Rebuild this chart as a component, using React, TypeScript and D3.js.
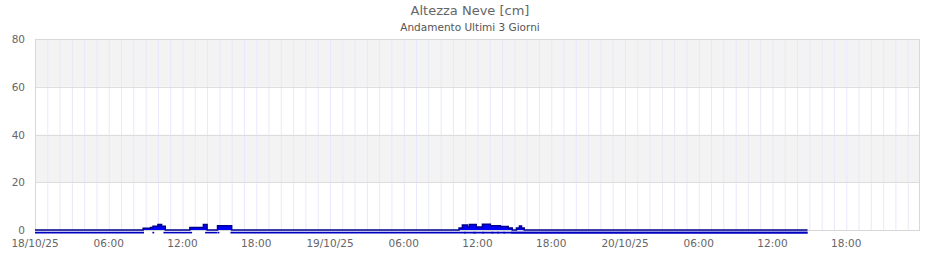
import React from "react";
import * as d3 from "d3";

// Time axis: hours since 18/10/25 00:00
const domainHours = [0, 72];
const yTicks = [0, 20, 40, 60, 80];
const xTickHours = [0, 6, 12, 18, 24, 30, 36, 42, 48, 54, 60, 66];
const xTickLabels = ["18/10/25", "06:00", "12:00", "18:00", "19/10/25", "06:00", "12:00", "18:00", "20/10/25", "06:00", "12:00", "18:00"];

// Snow height series (step changes): hour, value cm
const stepHours = [0, 8.8, 9.4, 9.6, 10.0, 10.3, 10.6, 12.6, 13.7, 14.0, 14.85, 16.0,
  34.5, 34.77, 35.18, 35.34, 35.9, 36.4, 37.05, 37.87, 38.5, 38.83, 39.17, 39.41, 39.58, 39.8, 62.85];
const stepValues = [0, 0.7, 1.0, 1.6, 2.3, 1.6, 0, 1.0, 2.3, 0, 1.8, 0,
  0.8, 2.1, 1.3, 2.3, 1.3, 2.4, 1.8, 1.5, 0.8, 0, 0.8, 1.7, 0.8, 0, 0];

// Second series (baseline level) drawn as segments
const baseLevel = -1.1;
const baseSegStart = [0, 9.55, 10.45, 12.78, 13.84, 14.87, 15.9, 34.9, 35.65, 36.38, 37.12, 37.6, 38.1, 38.72];
const baseSegEnd = [8.87, 9.7, 12.78, 12.78, 14.85, 15.0, 62.85, 35.05, 35.85, 36.55, 37.3, 37.72, 38.25, 62.85];

const W = 940, H = 260;
const L = 35, R = 920, T = 39, B = 230;
const font = "'DejaVu Sans', sans-serif";

export default function App() {
  const x = d3.scaleLinear().domain(domainHours).range([L, R]);
  const y = d3.scaleLinear().domain([0, 80]).range([B, T]);

  const pts = stepHours.map((h, i) => [h, stepValues[i]] as [number, number]);
  const area = d3.area<[number, number]>()
    .x(d => x(d[0])).y0(y(0)).y1(d => y(d[1])).curve(d3.curveStepAfter);
  const line = d3.line<[number, number]>()
    .x(d => x(d[0])).y(d => y(d[1])).curve(d3.curveStepAfter);

  const hourLines = d3.range(1, 72);
  const bands = [[20, 40], [60, 80]];

  return (
    <svg width={W} height={H} style={{ position: "absolute", left: 0, top: 0, background: "#fff" }}>
      {bands.map(([a, b], i) => (
        <rect key={i} x={L} y={y(b)} width={R - L} height={y(a) - y(b)} fill="#f3f3f3" />
      ))}
      {hourLines.map(h => (
        <line key={h} x1={x(h) + 0.5} x2={x(h) + 0.5} y1={T} y2={B} stroke="#e8e8fb" strokeWidth={1} />
      ))}
      {yTicks.map(v => (
        <line key={v} x1={L} x2={R} y1={Math.round(y(v)) + 0.5} y2={Math.round(y(v)) + 0.5} stroke="#dddddd" strokeWidth={1} />
      ))}
      <rect x={L + 0.5} y={T + 0.5} width={R - L - 1} height={B - T} fill="none" stroke="#d8d8d8" strokeWidth={1} />

      <path d={area(pts) || ""} fill="#0000ff" />
      <path d={line(pts) || ""} fill="none" stroke="#00008c" strokeWidth={1.5} />
      {baseSegStart.map((s, i) => (
        <line key={i} x1={x(s)} x2={x(baseSegEnd[i])} y1={y(baseLevel)} y2={y(baseLevel)} stroke="#0000c0" strokeWidth={1.6} />
      ))}

      {yTicks.map(v => (
        <text key={v} x={25} y={y(v) + 4} textAnchor="end" fontFamily={font} fontSize={10.5} fill="#666">{v}</text>
      ))}
      {xTickHours.map((h, i) => (
        <text key={i} x={x(h)} y={247} textAnchor="middle" fontFamily={font} fontSize={10.5} fill="#666">{xTickLabels[i]}</text>
      ))}
      <text x={470} y={15} textAnchor="middle" fontFamily={font} fontSize={13} fill="#666">Altezza Neve [cm]</text>
      <text x={470} y={31} textAnchor="middle" fontFamily={font} fontSize={10.5} fill="#555">Andamento Ultimi 3 Giorni</text>
    </svg>
  );
}
